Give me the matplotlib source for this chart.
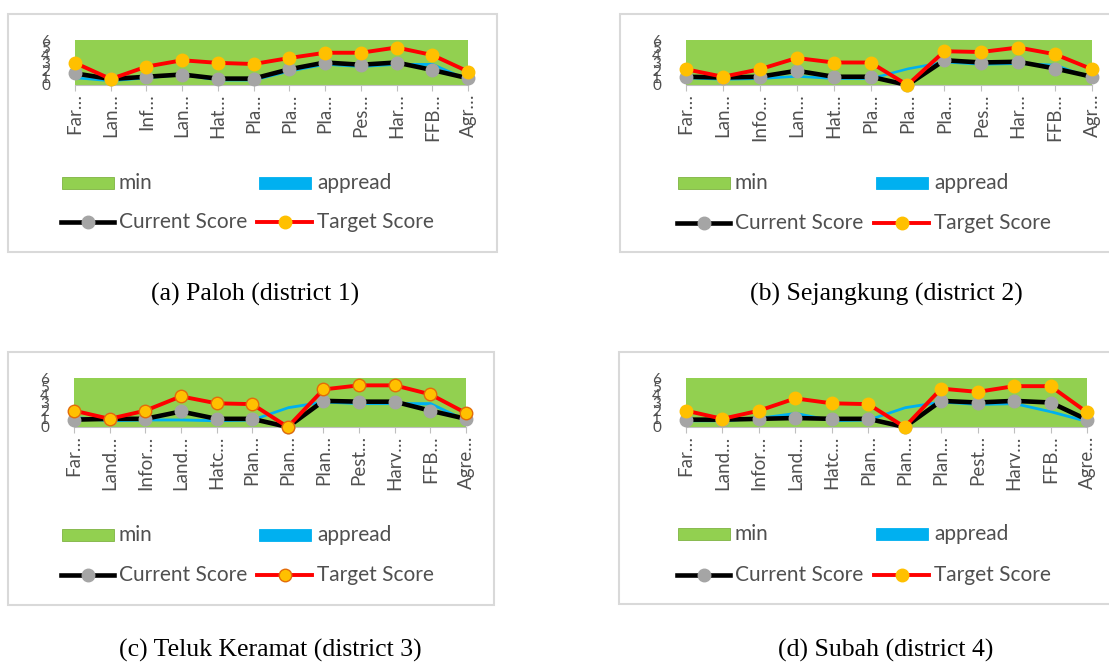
import matplotlib
matplotlib.use("Agg")
import matplotlib.pyplot as plt
from matplotlib.patches import Rectangle
from matplotlib.lines import Line2D

# ---------------- data ----------------
cats_a = ["Far…", "Lan…", "Inf…", "Lan…", "Hat…", "Pla…", "Pla…", "Pla…", "Pes…", "Har…", "FFB…", "Agr…"]
cats_b = ["Far…", "Lan…", "Info…", "Lan…", "Hat…", "Pla…", "Pla…", "Pla…", "Pes…", "Har…", "FFB…", "Agr…"]
cats_c = ["Far…", "Land…", "Infor…", "Land…", "Hatc…", "Plan…", "Plan…", "Plan…", "Pest…", "Harv…", "FFB…", "Agre…"]
cats_d = ["Far…", "Land…", "Infor…", "Land…", "Hatc…", "Plan…", "Plan…", "Plan…", "Pest…", "Harv…", "FFB…", "Agre…"]

current_a = [1.55, 0.8, 1.1, 1.4, 0.85, 0.85, 2.1, 3.0, 2.7, 3.0, 2.0, 0.9]
target_a = [2.95, 0.8, 2.45, 3.3, 2.95, 2.8, 3.6, 4.3, 4.3, 5.0, 4.0, 1.8]
min_a = [0.85, 0.45, 0.85, 1.25, 0.55, 0.55, 1.75, 2.65, 2.35, 2.65, 2.6, 0.55]
appread_a = [0.35, 0.35, 0.35, 0.4, 0.35, 0.35, 0.35, 0.35, 0.35, 0.35, 0.4, 0.35]

current_b = [1.1, 1.0, 1.1, 1.9, 1.1, 1.1, 0.0, 3.3, 3.0, 3.1, 2.2, 1.1]
target_b = [2.1, 1.1, 2.1, 3.6, 3.0, 3.0, 0.0, 4.5, 4.4, 5.0, 4.1, 2.1]
min_b = [0.85, 0.65, 0.75, 1.05, 0.75, 0.75, 2.05, 2.95, 2.65, 2.75, 2.5, 0.75]
appread_b = [0.55, 0.35, 0.35, 0.35, 0.35, 0.35, 0.35, 0.35, 0.35, 0.35, 0.4, 0.35]

current_c = [0.9, 1.0, 1.0, 1.9, 1.0, 1.0, 0.0, 3.2, 3.1, 3.1, 2.0, 1.0]
target_c = [2.0, 1.0, 2.0, 3.75, 2.9, 2.8, 0.0, 4.6, 5.1, 5.1, 4.0, 1.7]
min_c = [1.05, 0.65, 0.75, 0.75, 0.65, 0.75, 2.25, 2.95, 2.75, 2.75, 2.7, 0.65]
appread_c = [0.35, 0.35, 0.35, 0.35, 0.35, 0.35, 0.35, 0.35, 0.35, 0.35, 0.4, 0.35]

current_d = [0.9, 0.9, 1.0, 1.1, 1.0, 1.0, 0.0, 3.2, 3.0, 3.2, 3.0, 0.9]
target_d = [2.0, 1.0, 2.0, 3.5, 2.9, 2.8, 0.0, 4.7, 4.3, 5.0, 5.0, 1.8]
min_d = [0.65, 0.65, 0.95, 1.5, 0.65, 0.75, 2.25, 2.95, 2.65, 2.75, 1.75, 0.55]
appread_d = [0.35, 0.35, 0.35, 0.4, 0.35, 0.35, 0.35, 0.35, 0.35, 0.35, 0.35, 0.35]

captions = ["(a) Paloh (district 1)", "(b) Sejangkung (district 2)",
            "(c) Teluk Keramat (district 3)", "(d) Subah (district 4)"]
legend_labels = ["min", "appread", "Current Score", "Target Score"]
yticks = [0, 1, 2, 3, 4, 5, 6]

# ---------------- style ----------------
GREEN = "#92D050"
BLUE = "#00B0F0"
RED = "#FF0000"
GOLD = "#FFC000"
GRAY = "#A5A5A5"
TXT = "#505050"
FONT = "Lato"
MS = 9
LW_CUR = 3.3
LW_TGT = 2.8

W, H = 1109, 671
fig = plt.figure(figsize=(W / 100, H / 100), dpi=100)
fig.patch.set_facecolor("white")


def fx(x):
    return x / W


def fy(y):
    return 1 - y / H


panels = [
    dict(cats=cats_a, cur=current_a, tgt=target_a, mn=min_a, ap=appread_a,
         box=(8, 14, 497, 252), plot=(75, 40, 468, 85), leg=(62, 183, 222), col2=259,
         cap=(255, 294), edge=None),
    dict(cats=cats_b, cur=current_b, tgt=target_b, mn=min_b, ap=appread_b,
         box=(620, 14, 1120, 252), plot=(686, 40, 1092, 85), leg=(678, 183, 223), col2=876,
         cap=(886, 294), edge=None),
    dict(cats=cats_c, cur=current_c, tgt=target_c, mn=min_c, ap=appread_c,
         box=(8, 352, 494, 605), plot=(74, 378, 466, 427), leg=(62, 535, 575), col2=259,
         cap=(270, 650), edge="#E36C09"),
    dict(cats=cats_d, cur=current_d, tgt=target_d, mn=min_d, ap=appread_d,
         box=(619, 352, 1120, 604), plot=(686, 378, 1087, 427), leg=(678, 534, 575), col2=876,
         cap=(886, 650), edge=None),
]

for i, p in enumerate(panels):
    bx0, by0, bx1, by1 = p["box"]
    fig.add_artist(Rectangle((fx(bx0), fy(by1)), fx(bx1 - bx0), (by1 - by0) / H,
                             transform=fig.transFigure, facecolor="white",
                             edgecolor="#D9D9D9", lw=1.5, zorder=-5))
    x0, y0, x1, y1 = p["plot"]
    ax = fig.add_axes([fx(x0), fy(y1), fx(x1 - x0), (y1 - y0) / H])
    ax.set_facecolor(GREEN)
    n = len(p["cats"])
    xs = list(range(n))
    lower = p["mn"]
    upper = [a + b for a, b in zip(p["mn"], p["ap"])]
    ax.fill_between(xs, lower, upper, color=BLUE, lw=0, zorder=2)
    ax.plot(xs, p["cur"], color="black", lw=LW_CUR, marker="o", ms=MS,
            mfc=GRAY, mec=GRAY, zorder=3, clip_on=False)
    mec = p["edge"] if p["edge"] else GOLD
    ax.plot(xs, p["tgt"], color=RED, lw=LW_TGT, marker="o", ms=MS,
            mfc=GOLD, mec=mec, mew=1.0, zorder=4, clip_on=False)
    ax.set_xlim(0, n - 1)
    ax.set_ylim(0, 6)
    ax.set_xticks(xs)
    ax.set_xticklabels(p["cats"], rotation=90, fontsize=13.5, color=TXT,
                       family=FONT)
    ax.set_yticks(yticks)
    ax.set_yticklabels([str(v) for v in yticks], fontsize=11, color=TXT,
                       family=FONT)
    ax.tick_params(axis="x", length=4, width=0.8, color="#BFBFBF", pad=2)
    ax.tick_params(axis="y", length=0, pad=18)
    for s in ["top", "right", "left"]:
        ax.spines[s].set_visible(False)
    ax.spines["bottom"].set_color("#BFBFBF")
    ax.spines["bottom"].set_linewidth(0.8)

    # legend (drawn manually)
    lx, r1, r2 = p["leg"]
    c2 = p["col2"]
    ph = 12
    fig.add_artist(Rectangle((fx(lx), fy(r1 + ph / 2)), fx(52), ph / H,
                             transform=fig.transFigure, facecolor=GREEN,
                             edgecolor="#7FB342", lw=0.6, zorder=5))
    fig.text(fx(lx + 56), fy(r1), legend_labels[0], fontsize=15, color=TXT,
             family=FONT, va="center", ha="left")
    fig.add_artist(Rectangle((fx(c2), fy(r1 + ph / 2)), fx(52), ph / H,
                             transform=fig.transFigure, facecolor=BLUE,
                             edgecolor=BLUE, lw=0.6, zorder=5))
    fig.text(fx(c2 + 58), fy(r1), legend_labels[1], fontsize=15, color=TXT,
             family=FONT, va="center", ha="left")
    fig.add_artist(Line2D([fx(lx - 1), fx(lx + 52)], [fy(r2), fy(r2)],
                          transform=fig.transFigure, color="black", lw=LW_CUR, zorder=5))
    fig.add_artist(Line2D([fx(lx + 26)], [fy(r2)], transform=fig.transFigure,
                          marker="o", ms=MS, mfc=GRAY, mec=GRAY, zorder=6))
    fig.text(fx(lx + 57), fy(r2), legend_labels[2], fontsize=15, color=TXT,
             family=FONT, va="center", ha="left")
    fig.add_artist(Line2D([fx(c2 - 2), fx(c2 + 53)], [fy(r2), fy(r2)],
                          transform=fig.transFigure, color=RED, lw=LW_TGT, zorder=5))
    fig.add_artist(Line2D([fx(c2 + 26)], [fy(r2)], transform=fig.transFigure,
                          marker="o", ms=MS, mfc=GOLD, mec=mec, mew=1.0, zorder=6))
    fig.text(fx(c2 + 58), fy(r2), legend_labels[3], fontsize=15, color=TXT,
             family=FONT, va="center", ha="left")

    cx, cy = p["cap"]
    fig.text(fx(cx), fy(cy), captions[i], fontsize=18.5, color="black",
             family="Liberation Serif", ha="center", va="center")

fig.savefig("out.png", dpi=100, facecolor="white")
